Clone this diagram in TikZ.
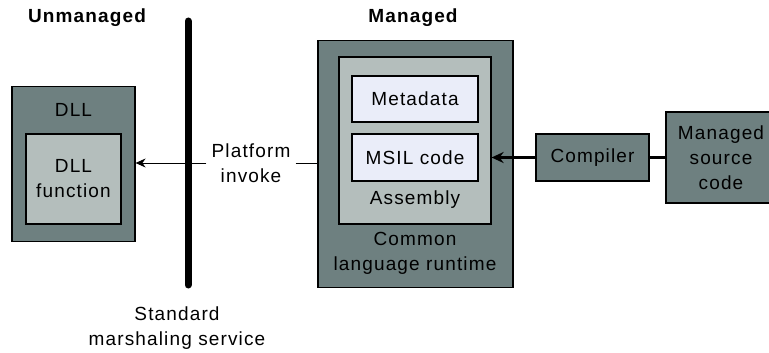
\documentclass[tikz,border=0pt]{standalone}
\usepackage{fontspec}
\setmainfont{Liberation Sans}[LetterSpace=6]
\usetikzlibrary{positioning,arrows.meta}
\definecolor{outerbox}{RGB}{110,128,128}
\definecolor{midbox}{RGB}{180,190,188}
\definecolor{innerbox}{RGB}{234,237,249}

\begin{document}
\begin{tikzpicture}[x=1pt,y=-1pt,
  every node/.style={font=\fontsize{19}{25}\selectfont,align=center,inner sep=0pt},
  darkbox/.style={draw=black,line width=1.2pt,fill=outerbox},
  greybox/.style={draw=black,line width=1.2pt,fill=midbox},
  whitebox/.style={draw=black,line width=1.2pt,fill=innerbox,minimum width=126pt},
  title/.style={font=\fontsize{19}{25}\selectfont\bfseries}]
  \useasboundingbox (0,0) rectangle (769,353);
  % unmanaged side
  \node[title] (unm) at (87,18) {Unmanaged};
  \node[darkbox,minimum width=123pt,minimum height=155pt] (dll) at (73.5,164) {};
  \node (dlltxt) at (73.5,110) {DLL};
  \node[greybox,minimum width=95pt,minimum height=90pt] (dllfun) at (73.5,179) {DLL\\function};
  % managed side
  \node[title] (man) at (413,18) {Managed};
  \node[darkbox,minimum width=195pt,minimum height=247pt] (clr) at (415.5,164) {};
  \node[greybox,minimum width=152pt,minimum height=167pt] (asm) at (415,140.5) {};
  \node[whitebox,minimum height=46pt] (meta) at (415,99) {Metadata};
  \node[whitebox,minimum height=47pt] (msil) at (415,157.5) {MSIL code};
  \node (asmtxt) at (415,200) {Assembly};
  \node (clrtxt) at (415,253) {Common\\language runtime};
  \node[darkbox,minimum width=113pt,minimum height=47pt] (comp) at (592.5,157.5) {Compiler};
  \node[darkbox,minimum width=110pt,minimum height=91pt] (src) at (721,157.5) {Managed\\source\\code};
  % platform invoke
  \node[inner xsep=5pt] (pinv) at (251,163) {Platform\\invoke};
  \draw[line width=0.8pt,-{Stealth[length=10pt,width=9pt]}] (pinv) -- (pinv -| dll.east);
  \draw[line width=0.8pt] (pinv) -- (pinv -| clr.west);
  \draw[line width=2.6pt,-{Stealth[length=12pt,width=11pt]}] (comp.west) -- (comp.west -| asm.east);
  \draw[line width=2.6pt] (src) -- (comp);
  % marshaling bar
  \coordinate (bartop) at (188,21);
  \coordinate (barbot) at (188,285);
  \draw[line width=7pt,line cap=round] (bartop) -- (barbot);
  \node (marsh) at (177,328) {Standard\\marshaling service};
\end{tikzpicture}
\end{document}
